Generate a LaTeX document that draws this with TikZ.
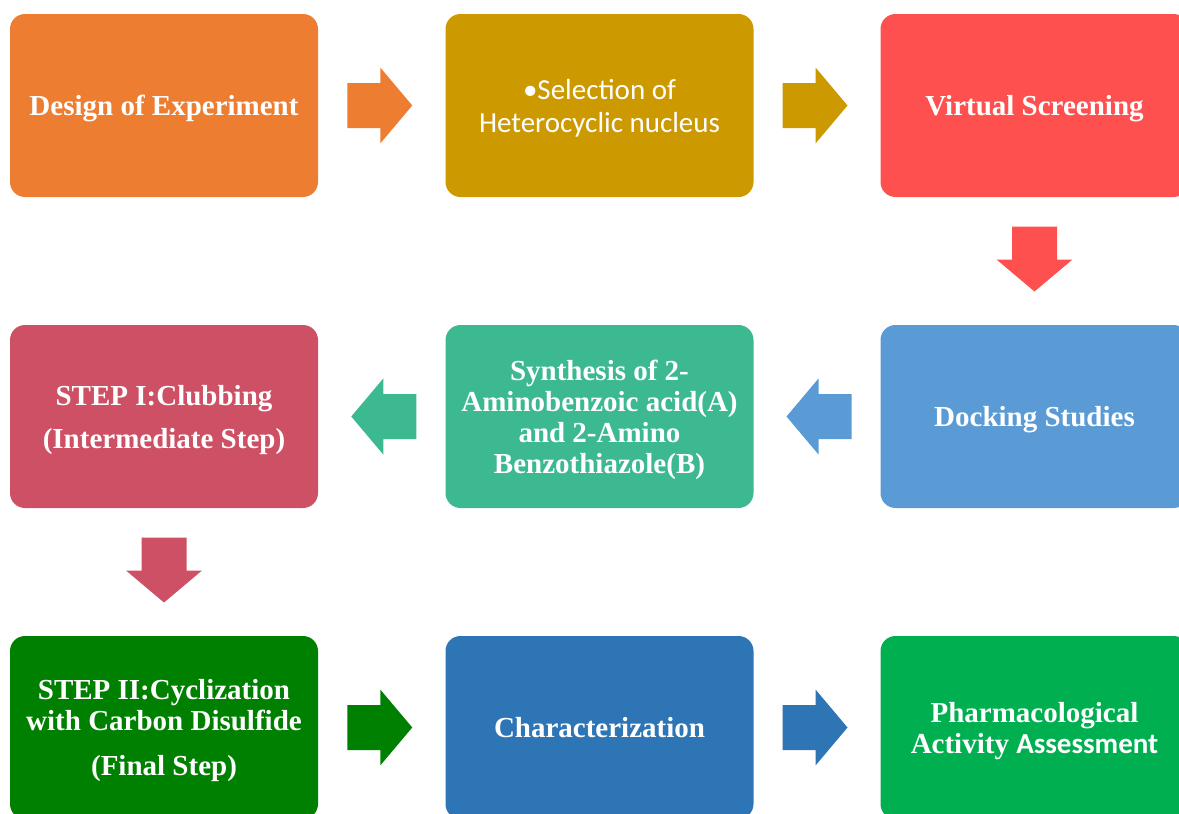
\documentclass[tikz,border=0pt]{standalone}
\usepackage{fontspec}
\setmainfont{Liberation Serif}
\newfontfamily\calibri{Carlito}
\usetikzlibrary{calc}
\definecolor{designorange}{HTML}{ED7D31}
\definecolor{selectgold}{HTML}{CC9900}
\definecolor{screenred}{HTML}{FF5050}
\definecolor{dockblue}{HTML}{5B9BD5}
\definecolor{synthgreen}{HTML}{3DB991}
\definecolor{steprose}{HTML}{CD5064}
\definecolor{cyclegreen}{HTML}{008000}
\definecolor{charblue}{HTML}{2E75B6}
\definecolor{pharmgreen}{HTML}{00B050}
\tikzset{
  stage/.style={rectangle, rounded corners=15pt, minimum width=308pt, minimum height=183pt,
    inner sep=0pt, text depth=0pt, text=white, align=center, font=\bfseries\fontsize{29}{31}\selectfont},
  blockarrow/.pic={\fill[#1] (-34.5,-22.5) -- (-1.5,-22.5) -- (-1.5,-38) -- (30.5,0)
    -- (-1.5,38) -- (-1.5,22.5) -- (-34.5,22.5) -- cycle;}
}
\begin{document}
\begin{tikzpicture}[x=1pt,y=-1pt]
\useasboundingbox (0,0) rectangle (1179,814);
\clip (0,0) rectangle (1179,814);
% first row
\node[stage, fill=designorange] (design) at (164,105.5) {Design of Experiment};
\node[stage, fill=selectgold, font=\calibri\fontsize{29}{33}\selectfont] (select) at (599.5,105.5) {•Selection of\\Heterocyclic nucleus};
\node[stage, fill=screenred] (screen) at (1034.5,105.5) {Virtual Screening};
% second row
\node[stage, fill=dockblue] (dock) at (1034.5,416.5) {Docking Studies};
\node[stage, fill=synthgreen] (synth) at (599.5,416.5) {Synthesis of 2-\\Aminobenzoic acid(A)\\and 2-Amino\\Benzothiazole(B)};
\node[stage, fill=steprose] (club) at (164,416.5) {STEP I:Clubbing\\[12pt](Intermediate Step)};
% third row
\node[stage, fill=cyclegreen] (cycle) at (164,727.5) {STEP II:Cyclization\\with Carbon Disulfide\\[14pt](Final Step)};
\node[stage, fill=charblue] (char) at (599.5,727.5) {Characterization};
\node[stage, fill=pharmgreen] (pharm) at (1034.5,727.5) {Pharmacological\\Activity {\calibri Assessment}};
% arrows
\pic at ($(design.east)!0.5!(select.west)$) {blockarrow=designorange};
\pic at ($(select.east)!0.5!(screen.west)$) {blockarrow=selectgold};
\pic[rotate=-90] at ($(screen.south)!0.5!(dock.north)$) {blockarrow=screenred};
\pic[rotate=180] at ($(dock.west)!0.5!(synth.east)$) {blockarrow=dockblue};
\pic[rotate=180] at ($(synth.west)!0.5!(club.east)$) {blockarrow=synthgreen};
\pic[rotate=-90] at ($(club.south)!0.5!(cycle.north)$) {blockarrow=steprose};
\pic at ($(cycle.east)!0.5!(char.west)$) {blockarrow=cyclegreen};
\pic at ($(char.east)!0.5!(pharm.west)$) {blockarrow=charblue};
\end{tikzpicture}
\end{document}
